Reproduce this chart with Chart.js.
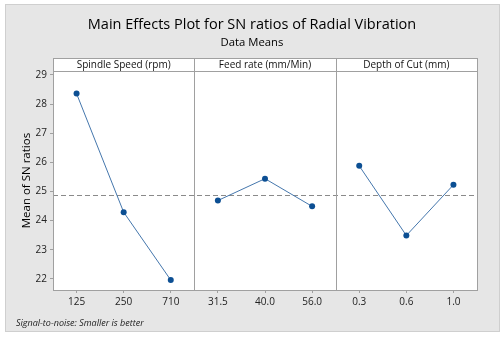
<!DOCTYPE html>
<html><head><meta charset="utf-8">
<script src="https://cdn.jsdelivr.net/npm/chart.js@4.4.0/dist/chart.umd.min.js"></script>
<style>html,body{margin:0;padding:0;background:#fff}#c{display:block}</style>
</head><body>
<div style="width:504px;height:337px"><canvas id="c" width="504" height="337"></canvas></div>
<script>
const factors = ['Spindle Speed (rpm)', 'Feed rate (mm/Min)', 'Depth of Cut (mm)'];
const spindleLevels = ['125', '250', '710'];
const feedLevels = ['31.5', '40.0', '56.0'];
const depthLevels = ['0.3', '0.6', '1.0'];
const spindleSN = [28.36, 24.29, 21.96];
const feedSN = [24.69, 25.44, 24.49];
const depthSN = [25.88, 23.49, 25.23];
const overallMean = 24.87;
const yTicks = [22, 23, 24, 25, 26, 27, 28, 29];
const yMin = 21.62, yMax = 29.13;

const FONT = "'Open Sans', 'DejaVu Sans', sans-serif";
const LINE = '#4577ad';
const MARK = '#0c4f93';
const FRAME = '#a0a0a0';

const allLevels = [...spindleLevels, ...feedLevels, ...depthLevels];
const levelGroups = [spindleLevels, feedLevels, depthLevels];
const valueGroups = [spindleSN, feedSN, depthSN];

const datasets = levelGroups.map((lv, g) => ({
  label: factors[g],
  data: lv.map((l, i) => ({ x: l, y: valueGroups[g][i] })),
  borderColor: LINE,
  borderWidth: 1,
  pointBackgroundColor: MARK,
  pointBorderColor: MARK,
  pointRadius: 3,
  pointBorderWidth: 0,
  tension: 0,
  clip: false
}));

const decor = {
  id: 'decor',
  beforeDraw(chart) {
    const ctx = chart.ctx, a = chart.chartArea;
    ctx.save();
    ctx.fillStyle = '#ffffff';
    ctx.fillRect(0, 0, chart.width, chart.height);
    ctx.fillStyle = '#e6e6e6';
    ctx.fillRect(5, 4, 495, 328);
    ctx.strokeStyle = '#cfcfcf';
    ctx.lineWidth = 1;
    ctx.strokeRect(5.5, 4.5, 494, 327);
    const stripTop = a.top - 13;
    ctx.fillStyle = '#ffffff';
    ctx.fillRect(a.left, stripTop, a.right - a.left, a.bottom - stripTop);
    ctx.restore();
  },
  beforeDatasetsDraw(chart) {
    const ctx = chart.ctx, a = chart.chartArea, xs = chart.scales.x, ys = chart.scales.y;
    const stripTop = a.top - 13;
    ctx.save();
    const ym = Math.round(ys.getPixelForValue(overallMean)) + 0.5;
    ctx.strokeStyle = '#8a8a8a';
    ctx.lineWidth = 1;
    ctx.setLineDash([5, 3]);
    ctx.beginPath();
    ctx.moveTo(a.left, ym);
    ctx.lineTo(a.right, ym);
    ctx.stroke();
    ctx.setLineDash([]);
    ctx.strokeStyle = FRAME;
    ctx.strokeRect(Math.round(a.left) + 0.5, Math.round(stripTop) + 0.5, Math.round(a.right - a.left), Math.round(a.bottom - stripTop));
    ctx.beginPath();
    ctx.moveTo(a.left, Math.round(a.top) + 0.5);
    ctx.lineTo(a.right, Math.round(a.top) + 0.5);
    ctx.stroke();
    const bounds = [a.left];
    for (let g = 1; g < levelGroups.length; g++) {
      const i = g * 3;
      const xb = (xs.getPixelForValue(i - 1) + xs.getPixelForValue(i)) / 2;
      bounds.push(xb);
      ctx.beginPath();
      ctx.moveTo(Math.round(xb) + 0.5, stripTop);
      ctx.lineTo(Math.round(xb) + 0.5, a.bottom);
      ctx.stroke();
    }
    bounds.push(a.right);
    ctx.fillStyle = '#111';
    ctx.font = '10px ' + FONT;
    ctx.textAlign = 'center';
    ctx.textBaseline = 'middle';
    for (let g = 0; g < factors.length; g++) {
      ctx.fillText(factors[g], (bounds[g] + bounds[g + 1]) / 2, stripTop + 6.5);
    }
    ctx.restore();
  },
  afterDraw(chart) {
    const ctx = chart.ctx;
    ctx.save();
    ctx.fillStyle = '#222';
    ctx.font = 'italic 9px ' + FONT;
    ctx.textAlign = 'left';
    ctx.textBaseline = 'middle';
    ctx.fillText('Signal-to-noise: Smaller is better', 16, 323);
    ctx.restore();
  }
};

new Chart(document.getElementById('c'), {
  type: 'line',
  data: { labels: allLevels, datasets },
  plugins: [decor],
  options: {
    responsive: false,
    devicePixelRatio: 1,
    animation: false,
    spanGaps: false,
    layout: { padding: { top: 0, left: 5, right: 5, bottom: 27 } },
    plugins: {
      legend: { display: false },
      tooltip: { enabled: false },
      title: {
        display: true,
        text: 'Main Effects Plot for SN ratios of Radial Vibration',
        color: '#000',
        font: { family: FONT, size: 14.5, weight: 'normal' },
        padding: { top: 16.3, bottom: 0 }
      },
      subtitle: {
        display: true,
        text: 'Data Means',
        color: '#000',
        font: { family: FONT, size: 11.3, weight: 'normal' },
        padding: { top: 2.7, bottom: 21.2 }
      }
    },
    scales: {
      x: {
        type: 'category',
        offset: true,
        grid: { drawOnChartArea: false, drawTicks: true, tickLength: 3, color: FRAME, offset: false },
        border: { display: false },
        ticks: { color: '#222', font: { family: FONT, size: 10 }, padding: 3, maxRotation: 0, autoSkip: false },
        afterFit(s) { s.height = 20; }
      },
      y: {
        min: yMin,
        max: yMax,
        afterBuildTicks(s) { s.ticks = yTicks.map(v => ({ value: v })); },
        grid: { drawOnChartArea: false, drawTicks: true, tickLength: 3, color: FRAME },
        border: { display: false },
        ticks: { color: '#222', font: { family: FONT, size: 10 }, padding: 3 },
        title: {
          display: true,
          text: 'Mean of SN ratios',
          color: '#000',
          font: { family: FONT, size: 11.5 },
          padding: { top: 15, bottom: 0 }
        },
        afterFit(s) { s.width = 48; }
      },
      yRight: {
        position: 'right',
        display: true,
        grid: { display: false },
        border: { display: false },
        ticks: { display: false },
        afterFit(s) { s.width = 22; }
      }
    }
  }
});
</script>
</body></html>
